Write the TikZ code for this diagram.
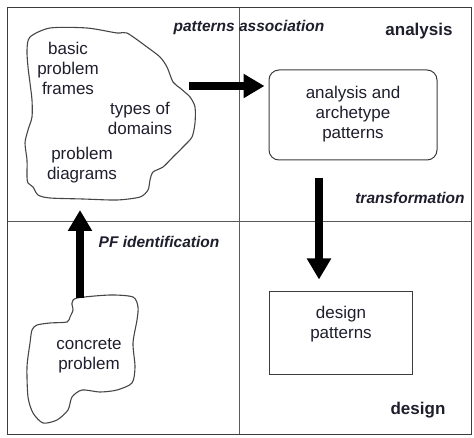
\documentclass[tikz,border=0pt]{standalone}
\usepackage{fontspec}
\setmainfont{Liberation Sans}
\usetikzlibrary{arrows.meta}
\definecolor{txt}{RGB}{30,30,45}
\definecolor{frm}{RGB}{60,60,60}
\definecolor{dvd}{RGB}{90,90,90}
\definecolor{blobc}{RGB}{70,70,70}
\tikzset{
  body/.style={font=\fontsize{17}{20}\selectfont, text=txt, align=center, inner sep=0pt},
  tag/.style={font=\fontsize{15.5}{18}\selectfont\bfseries\itshape, text=txt, inner sep=0pt},
  phase/.style={font=\fontsize{17}{20}\selectfont\bfseries, text=txt, inner sep=0pt},
  blob/.style={draw=blobc, line width=1.1pt},
  bigarrow/.style={line width=7.5pt, -{Triangle[width=23pt,length=21pt]}},
  boxr/.style={draw=frm, line width=1pt, rounded corners=10pt, minimum width=168pt, minimum height=90pt},
  boxs/.style={draw=frm, line width=1pt, minimum width=143pt, minimum height=82pt}
}
\begin{document}
\begin{tikzpicture}[x=1pt,y=-1pt]
\useasboundingbox (0,0) rectangle (474,438);
% frame and dividers
\draw[dvd, line width=1pt] (239,8) -- (239,434);
\draw[dvd, line width=1pt] (7,222) -- (471,222);
\draw[frm, line width=1pt] (7,8) rectangle (471,434);
% blob 1
\draw[blob] plot[smooth cycle, tension=0.45] coordinates {
(30,37) (50,28) (87,28) (117,33) (127,33) (147,47) (160,57) (167,67) (173,82) (180,88) (190,97) (195,107) (195,123) (192,137) (183,147) (173,157) (163,167) (153,172) (150,180) (148,190) (140,197) (117,200) (83,199) (50,198) (38,195) (33,187) (28,183) (27,177) (27,160) (25,143) (28,130) (32,117) (32,100) (30,83) (28,67) (27,50)};
% blob 2
\draw[blob] plot[smooth cycle, tension=0.45] coordinates {
(77,298) (110,295) (133,297) (138,307) (137,320) (133,343) (135,367) (132,383) (117,390) (100,392) (82,390) (72,397) (68,410) (57,420) (43,423) (33,413) (28,397) (27,367) (30,343) (32,330) (37,325) (50,323) (67,322) (70,317) (73,310) (72,303)};
% blob texts
\node[body] (bpf) at (68,68) {basic\\problem\\frames};
\node[body] (tod) at (140,118) {types of\\domains};
\node[body] (pd) at (82,165) {problem\\diagrams};
\node[body] (cp) at (89,356) {concrete\\problem};
% boxes
\node[boxr] (aap) at (353,115) {};
\node[body] (aapt) at (353,114) {analysis and\\archetype\\patterns};
\node[boxs] (dp) at (340.5,333) {};
\node[body] (dpt) at (341,324) {design\\patterns};
% labels
\node[tag] (pa) at (249,27) {patterns association};
\node[tag] (tr) at (410,198) {transformation};
\node[tag] (pfi) at (159,242) {PF identification};
\node[phase] (an) at (419,31) {analysis};
\node[phase] (de) at (418,410) {design};
% arrow ends
\coordinate (b1e) at (189,86);
\coordinate (b1s) at (80,210);
\coordinate (b2n) at (80,298);
% arrows
\draw[bigarrow] (b1e) -- (aap.west |- b1e) [shorten >=4pt];
\draw[bigarrow, shorten <=18pt, shorten >=12pt] (aap.south -| 319,0) -- (dp.north -| 319,0);
\draw[bigarrow] (b2n) -- (b1s);
\end{tikzpicture}
\end{document}
